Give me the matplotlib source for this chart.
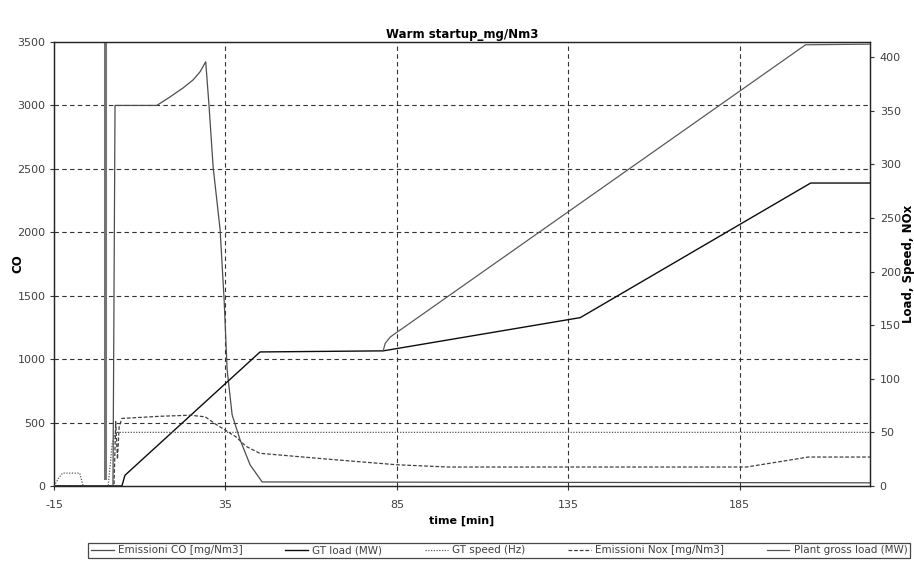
import matplotlib
matplotlib.use("Agg")
import matplotlib.pyplot as plt

plt.rcParams['axes.unicode_minus'] = False

# ---------------- data ----------------
co_t = [-15, 2.2, 2.8, 15.0, 18.9, 22.7, 25.6, 27.6, 29.25, 30.24, 31.41, 33.45,
        34.62, 35.5, 36.96, 39.29, 42.21, 45.71, 223]
co_v = [0, 0, 3000, 3000, 3068, 3139, 3202, 3265, 3344, 2989, 2516, 2019,
        1467, 915, 560, 363, 166, 32, 25]

gtload_t = [-15, 4.8, 5.7, 45.1, 81.0, 138.5, 205.7, 223]
gtload_v = [0, 0, 10, 125, 126, 157, 282.5, 282.5]

speed_t = [-15, -13.5, -12.5, -7.5, -6.5, 0.8, 2.0, 3.0, 223]
speed_v = [0, 8, 12, 12, 0, 0, 40, 50, 50]

nox_t = [-15, 2.5, 3.0, 3.5, 4.0, 4.8, 15.9, 24.7, 29.1, 32, 35, 38, 41, 45,
         65, 85, 100, 187, 205, 223]
nox_v = [0, 0, 60, 25, 55, 63, 65, 66, 64.5, 58, 52, 46, 37, 30.5,
         25, 19.8, 17.7, 17.7, 27, 27]

plant_t = [81.0, 81.6, 83.1, 204.2, 223]
plant_v = [126, 133, 139, 411.4, 412]

x_ticks = [-15, 35, 85, 135, 185]
left_ticks = [0, 500, 1000, 1500, 2000, 2500, 3000, 3500]
right_ticks = [0, 50, 100, 150, 200, 250, 300, 350, 400]

labels = ["Emissioni CO [mg/Nm3]", "GT load (MW)", "GT speed (Hz)",
          "Emissioni Nox [mg/Nm3]", "Plant gross load (MW)"]

# ---------------- figure ----------------
fig = plt.figure(figsize=(9.14, 5.70), dpi=100)
ax = fig.add_axes([54/914, 1-486/570, (870-54)/914, (486-42)/570])
ax2 = ax.twinx()

ax.set_xlim(-15, 223)
ax.set_ylim(0, 3500)
ax2.set_ylim(0, 414)

# grid
for v in left_ticks[1:-1]:
    ax.axhline(v, color='0.2', lw=0.8, ls=(0, (4, 3)), zorder=1)
for t in x_ticks[1:]:
    ax.axvline(t, color='0.2', lw=0.8, ls=(0, (4, 3)), zorder=1)
ax.axvline(0, ymin=0.018, ymax=1, color='0.45', lw=2.2, zorder=1)

l1, = ax.plot(co_t, co_v, color='0.3', lw=0.9, zorder=3)
l2, = ax2.plot(gtload_t, gtload_v, color='0.05', lw=1.0, zorder=3)
l3, = ax2.plot(speed_t, speed_v, color='0.35', lw=0.9, ls=(0, (1, 1.2)), zorder=3)
l4, = ax2.plot(nox_t, nox_v, color='0.25', lw=0.9, ls=(0, (3, 1.5)), zorder=3)
l5, = ax2.plot(plant_t, plant_v, color='0.35', lw=0.9, zorder=3)

tick_kw = dict(labelsize=8, labelcolor='0.25', length=3, width=0.8, colors='0.2')
ax.set_xticks(x_ticks)
ax.set_yticks(left_ticks)
ax2.set_yticks(right_ticks)
ax.tick_params(axis='x', pad=7, **tick_kw)
ax.tick_params(axis='y', pad=3, **tick_kw)
ax2.tick_params(axis='y', pad=4, **tick_kw)
for sp in ax.spines.values():
    sp.set_color('0.15')
    sp.set_linewidth(0.9)
for sp in ax2.spines.values():
    sp.set_color('0.15')
    sp.set_linewidth(0.9)

ax.set_title("Warm startup_mg/Nm3", fontsize=8.5, fontweight='bold', pad=3)
ax.set_xlabel("time [min]", fontsize=8, fontweight='bold', labelpad=4)
ax.set_ylabel("CO", fontsize=8.5, fontweight='bold')
ax.yaxis.set_label_coords(-0.036, 0.5)
ax2.set_ylabel("Load, Speed, NOx", fontsize=8.5, fontweight='bold', labelpad=1)

leg = fig.legend([l1, l2, l3, l4, l5], labels, loc='lower left', ncol=5,
                 bbox_to_anchor=(88/914, 1-558/570, (910-88)/914, 18/570),
                 mode='expand', fontsize=7.5, frameon=True, fancybox=False,
                 handlelength=2.2, handletextpad=0.4, borderpad=0.25,
                 borderaxespad=0)
leg.get_frame().set_edgecolor('0.1')
leg.get_frame().set_linewidth(0.9)
for t in leg.get_texts():
    t.set_color('0.25')

fig.savefig("out.png", dpi=100)
